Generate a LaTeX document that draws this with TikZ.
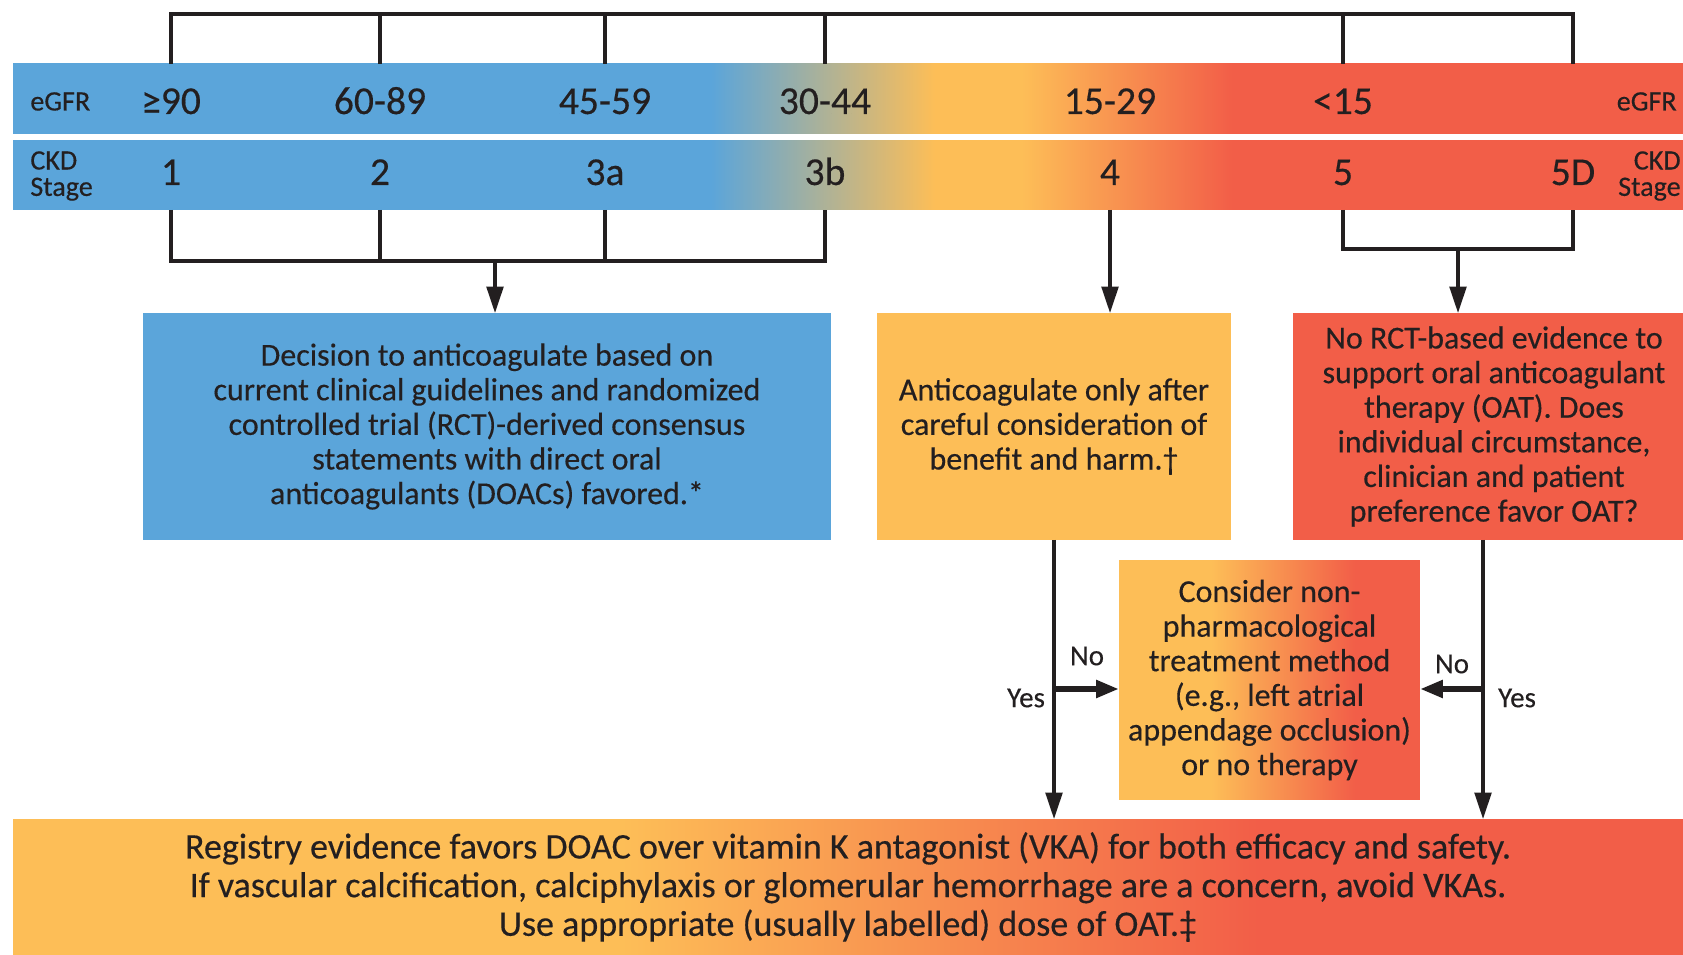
\documentclass[tikz,border=0pt]{standalone}
\usepackage{fontspec}
\setmainfont{Carlito}[FakeBold=0.35]
\usepackage{tikz}
\usetikzlibrary{arrows.meta,positioning}
\definecolor{ckdblue}{HTML}{5BA5DA}
\definecolor{ckdorange}{HTML}{FDBE57}
\definecolor{ckdred}{HTML}{F25E48}
\definecolor{ckdink}{HTML}{231F20}
\pgfdeclarehorizontalshading{bandshade}{100bp}{color(0bp)=(ckdblue); color(45.9bp)=(ckdblue); color(52.6bp)=(ckdorange); color(55.2bp)=(ckdorange); color(61.5bp)=(ckdred); color(100bp)=(ckdred)}
\pgfdeclarehorizontalshading{barshade}{100bp}{color(0bp)=(ckdorange); color(43.2bp)=(ckdorange); color(62.3bp)=(ckdred); color(100bp)=(ckdred)}
\pgfdeclarehorizontalshading{noshade}{100bp}{color(0bp)=(ckdorange); color(40.3bp)=(ckdorange); color(64.2bp)=(ckdred); color(100bp)=(ckdred)}

\begin{document}
\begin{tikzpicture}[x=0.02cm, y=-0.02cm,
  bar/.style={inner sep=0pt, outer sep=0pt},
  box/.style={align=center, inner sep=0pt, outer sep=0pt, text=ckdink,
              font=\fontsize{18.2}{19.7}\selectfont},
  tick/.style={anchor=base, inner sep=0pt, text=ckdink,
               font=\fontsize{22.5}{25}\selectfont},
  side/.style={inner sep=0pt, text=ckdink, font=\fontsize{16}{15}\selectfont},
  lbl/.style={inner sep=1pt, text=ckdink, font=\fontsize{16.5}{19}\selectfont},
  brk/.style={ckdink, line width=1.8pt},
  arr/.style={ckdink, line width=1.8pt, -{Triangle[length=15pt,width=9.5pt]}},
  noarr/.style={ckdink, line width=3.4pt, -{Triangle[length=13pt,width=9.5pt]}}]
\useasboundingbox (0,0) rectangle (1683,955);
% eGFR and CKD stage bands
\node[bar, shade, shading=bandshade, minimum width=33.4cm, minimum height=1.4cm] (egfrbar) at (848,99) {};
\node[bar, shade, shading=bandshade, minimum width=33.4cm, minimum height=1.38cm] (ckdbar) at (848,175.5) {};
\node[side, anchor=base west] (egfrl) at (30,110.5) {eGFR};
\node[side, anchor=base east] (egfrr) at (1677,110.5) {eGFR};
\node[side, anchor=west, align=left] (ckdl) at (30,176) {CKD\\Stage};
\node[side, anchor=east, align=right] (ckdr) at (1681,176) {CKD\\Stage};
\foreach \nm/\x/\g/\s in {a/171/≥90/1, b/380/60-89/2, c/605/45-59/3a, d/825/30-44/3b, e/1110/15-29/4, f/1343/<15/5}{
  \node[tick] (g\nm) at (\x,114) {\g};
  \node[tick] (s\nm) at (\x,185) {\s};
}
\node[tick] (sg) at (1573,185) {5D};
% brackets
\coordinate (topy) at (0,14);
\coordinate (lowy) at (0,261);
\coordinate (fivey) at (0,249);
\draw[brk] (ga.base |- egfrbar.north) -- (ga.base |- topy) -| (sg.base |- egfrbar.north);
\foreach \nm in {b,c,d,f}
  \draw[brk] (g\nm.base |- egfrbar.north) -- (g\nm.base |- topy);
\draw[brk] (sa.base |- ckdbar.south) -- (sa.base |- lowy) -| (sd.base |- ckdbar.south);
\foreach \nm in {b,c}
  \draw[brk] (s\nm.base |- ckdbar.south) -- (s\nm.base |- lowy);
\draw[brk] (sf.base |- ckdbar.south) -- (sf.base |- fivey) -| (sg.base |- ckdbar.south);
% decision boxes
\node[box, fill=ckdblue, minimum width=13.76cm, minimum height=4.54cm] (box1) at (487,426.5)
  {Decision to anticoagulate based on\\current clinical guidelines and randomized\\controlled trial (RCT)-derived consensus\\statements with direct oral\\anticoagulants (DOACs) favored.*};
\node[box, fill=ckdorange, minimum width=7.08cm, minimum height=4.54cm] (box2) at (1054,426.5)
  {Anticoagulate only after\\careful consideration of\\benefit and harm.†};
\node[box, fill=ckdred, minimum width=8.04cm, minimum height=4.54cm] (box3) at (1494,426.5)
  {No RCT-based evidence to\\support oral anticoagulant\\therapy (OAT). Does\\individual circumstance,\\clinician and patient\\preference favor OAT?};
\node[box, shade, shading=noshade, minimum width=6.02cm, minimum height=4.8cm] (box4) at (1269.5,680)
  {Consider non-\\pharmacological\\treatment method\\(e.g., left atrial\\appendage occlusion)\\or no therapy};
\node[box, shade, shading=barshade, minimum width=33.4cm, minimum height=2.72cm,
      font=\fontsize{20.5}{22}\selectfont] (reg) at (848,887)
  {Registry evidence favors DOAC over vitamin K antagonist (VKA) for both efficacy and safety.\\If vascular calcification, calciphylaxis or glomerular hemorrhage are a concern, avoid VKAs.\\Use appropriate (usually labelled) dose of OAT.‡};
% arrows
\coordinate (lowmid) at (495,261);
\coordinate (fivemid) at (1458,249);
\coordinate (yesr) at ([xshift=-0.22cm]box3.south);
\draw[arr] (lowmid) -- (lowmid |- box1.north);
\draw[arr] (se.base |- ckdbar.south) -- (se.base |- box2.north);
\draw[arr] (fivemid) -- (fivemid |- box3.north);
\draw[arr] (box2.south) -- (box2.south |- reg.north);
\draw[arr] (yesr) -- (yesr |- reg.north);
\coordinate (nol) at ([yshift=-0.18cm]box4.west);
\coordinate (nor) at ([yshift=-0.18cm]box4.east);
\draw[noarr] (box2.south |- nol) -- (nol);
\draw[noarr] (yesr |- nor) -- (nor);
\node[lbl] (no1) at (1087,656) {No};
\node[lbl] (yes1) at (1026,698) {Yes};
\node[lbl] (no2) at (1452,664) {No};
\node[lbl] (yes2) at (1517,698) {Yes};
\end{tikzpicture}
\end{document}
